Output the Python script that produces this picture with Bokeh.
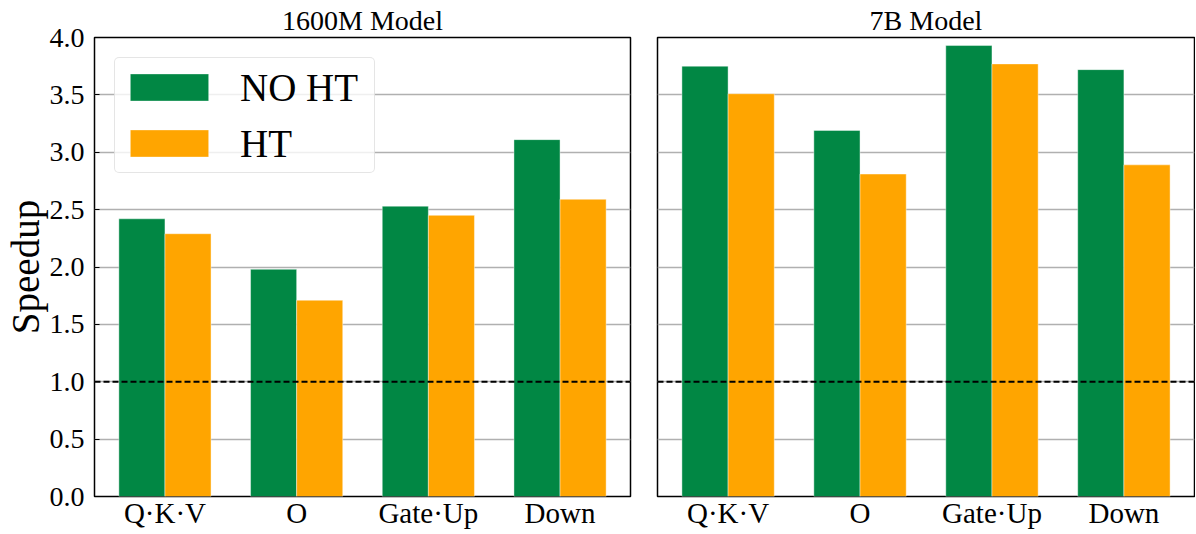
import numpy as np
from bokeh.plotting import figure
from bokeh.layouts import row
from bokeh.models import Range1d, FixedTicker, Span, NumeralTickFormatter, Legend
from bokeh.embed import file_html
from bokeh.resources import INLINE

# ---- data ----
categories = ["Q·K·V", "O", "Gate·Up", "Down"]
panel_titles = ["1600M Model", "7B Model"]
series_names = ["NO HT", "HT"]
no_ht_1600m = [2.42, 1.98, 2.53, 3.11]
ht_1600m = [2.29, 1.71, 2.45, 2.59]
no_ht_7b = [3.75, 3.19, 3.93, 3.72]
ht_7b = [3.51, 2.81, 3.77, 2.89]
y_ticks = [0.0, 0.5, 1.0, 1.5, 2.0, 2.5, 3.0, 3.5, 4.0]
y_max = 4.0
baseline = 1.0

GREEN = "#018744"
ORANGE = "#FFA500"
FONT = "Liberation Serif"
BAR_W = 0.35
HEIGHT = 532


def make_panel(title, no_ht, ht, first, width, border_left, border_right):
    idx = np.arange(len(categories))
    x_lo, x_hi = -0.535, len(categories) - 1 + 0.535
    p = figure(width=width, height=HEIGHT, output_backend="svg", toolbar_location=None,
               x_range=Range1d(x_lo, x_hi), y_range=Range1d(0, y_max),
               min_border_left=border_left, min_border_right=border_right,
               min_border_top=37, min_border_bottom=36)
    kw = dict(width=BAR_W, bottom=0, line_color="white", line_width=0.7, line_alpha=0.6)
    if first:
        p.vbar(x=idx - BAR_W / 2, top=no_ht, fill_color=GREEN, legend_label=series_names[0], **kw)
        p.vbar(x=idx + BAR_W / 2, top=ht, fill_color=ORANGE, legend_label=series_names[1], **kw)
    else:
        p.vbar(x=idx - BAR_W / 2, top=no_ht, fill_color=GREEN, **kw)
        p.vbar(x=idx + BAR_W / 2, top=ht, fill_color=ORANGE, **kw)

    p.add_layout(Span(location=baseline, dimension="width", line_color="black",
                      line_dash="6 3", line_width=1.8))

    p.title.text = title
    p.title.align = "center"
    p.title.text_font = FONT
    p.title.text_font_size = "28px"
    p.title.text_font_style = "normal"
    p.title.text_color = "black"
    p.title.standoff = 4

    p.outline_line_color = "black"
    p.outline_line_width = 1.5
    p.outline_line_alpha = 1.0

    p.xgrid.visible = False
    p.ygrid.grid_line_color = "#b0b0b0"
    p.ygrid.grid_line_width = 1.3

    xa = p.xaxis[0]
    xa.ticker = FixedTicker(ticks=list(idx))
    xa.major_label_overrides = {int(i): c for i, c in zip(idx, categories)}
    xa.major_tick_in = 0
    xa.major_tick_out = 0
    xa.minor_tick_line_color = None
    xa.axis_line_color = None
    xa.major_label_text_font = FONT
    xa.major_label_text_font_size = "29px"
    xa.major_label_text_color = "black"
    xa.major_label_standoff = 0
    xa.axis_label_standoff = 0

    ya = p.yaxis[0]
    ya.ticker = FixedTicker(ticks=y_ticks)
    if first:
        ya.formatter = NumeralTickFormatter(format="0.0")
        ya.major_tick_in = 5
        ya.major_tick_out = 0
        ya.major_tick_line_color = "black"
        ya.minor_tick_line_color = None
        ya.axis_line_color = None
        ya.major_label_text_font = FONT
        ya.major_label_text_color = "black"
        ya.major_label_text_font_size = "28px"
        ya.major_label_standoff = 10
        ya.axis_label = "Speedup"
        ya.axis_label_text_font = FONT
        ya.axis_label_text_font_size = "39px"
        ya.axis_label_text_font_style = "normal"
        ya.axis_label_text_color = "black"
        ya.axis_label_text_line_height = 0.9
        ya.axis_label_standoff = 0
    else:
        ya.visible = False

    if first:
        lg = p.legend[0]
        lg.location = "top_left"
        lg.margin = 20
        lg.padding = 5
        lg.spacing = 8
        lg.glyph_width = 98
        lg.glyph_height = 34
        lg.label_height = 48
        lg.label_width = 129
        lg.label_standoff = 22
        lg.label_text_font = FONT
        lg.label_text_font_size = "39px"
        lg.label_text_color = "black"
        lg.border_line_color = "#cccccc"
        lg.border_line_width = 1.5
        lg.background_fill_alpha = 0.8
        if "border_radius" in Legend.properties():
            lg.border_radius = 5
    return p


p1 = make_panel(panel_titles[0], no_ht_1600m, ht_1600m, True, 632, 93, 2)
p2 = make_panel(panel_titles[1], no_ht_7b, ht_7b, False, 563, 25, 1)

layout = row(p1, p2)
open("out.html", "w").write(file_html(layout, INLINE))
